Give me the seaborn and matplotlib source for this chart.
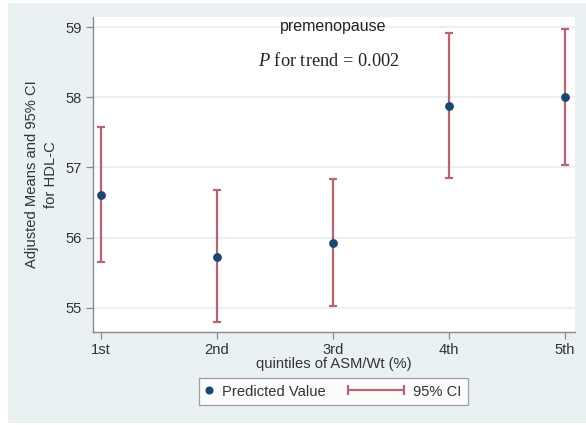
import matplotlib
matplotlib.use("Agg")
import matplotlib.pyplot as plt
import seaborn as sns
import pandas as pd
import numpy as np
from matplotlib.lines import Line2D
from matplotlib.legend_handler import HandlerBase
from matplotlib.patches import Rectangle

# Data
quintiles = ["1st", "2nd", "3rd", "4th", "5th"]
means = [56.61, 55.73, 55.93, 57.88, 58.00]
ci_low = [55.65, 54.80, 55.02, 56.85, 57.03]
ci_high = [57.57, 56.68, 56.84, 58.91, 58.97]
y_ticks = [55, 56, 57, 58, 59]

df = pd.DataFrame({"pos": np.arange(1, 6), "q": quintiles, "mean": means,
                   "lo": ci_low, "hi": ci_high})

sns.set_theme(style="white")
plt.rcParams["font.family"] = ["Liberation Sans", "DejaVu Sans"]
plt.rcParams["mathtext.fontset"] = "custom"
plt.rcParams["mathtext.it"] = "Liberation Serif:italic"
plt.rcParams["mathtext.rm"] = "Liberation Serif"

panel = "#e9f1f3"
navy = "#1a476f"
maroon = "#b8646e"
txt = "#333333"
FS = 10.6

fig = plt.figure(figsize=(5.86, 4.25), dpi=100, facecolor=panel)
for rect in [(0, 0, 8/586, 1), (0, 1-3/425, 1, 3/425), (0, 0, 1, 2/425)]:
    fig.patches.append(Rectangle(rect[:2], rect[2], rect[3], transform=fig.transFigure,
                                 facecolor="white", edgecolor="none", zorder=-1))

ax = fig.add_axes([92.7/586, 1-331.7/425, (575-92.7)/586, (331.7-17.3)/425])
ax.set_facecolor("white")

ax.errorbar(df["pos"], df["mean"],
            yerr=[df["mean"] - df["lo"], df["hi"] - df["mean"]],
            fmt="none", ecolor=maroon, elinewidth=1.6, capsize=2.9, capthick=1.6,
            zorder=2)
sns.scatterplot(data=df, x="pos", y="mean", ax=ax, color=navy, s=40,
                edgecolor=navy, linewidth=0, zorder=3, legend=False)

ax.set_xlim(0.931, 5.086)
ax.set_ylim(54.66, 59.14)
ax.set_xticks(df["pos"])
ax.set_xticklabels(quintiles)
ax.set_yticks(y_ticks)
ax.set_yticklabels([str(v) for v in y_ticks])

for y in y_ticks:
    ax.axhline(y, color=panel, lw=1.6, zorder=1)

for s in ["top", "right"]:
    ax.spines[s].set_visible(False)
for s in ["left", "bottom"]:
    ax.spines[s].set_color("#8a8a8a")
    ax.spines[s].set_linewidth(1.0)

ax.tick_params(axis="both", direction="out", length=5, width=0.9, color="#8a8a8a",
               labelsize=FS, labelcolor=txt, left=True, bottom=True, pad=3)

ax.set_xlabel("quintiles of ASM/Wt (%)", fontsize=FS, color=txt, labelpad=0)
ax.set_ylabel("Adjusted Means and 95% CI\nfor HDL-C", fontsize=FS, color=txt,
              labelpad=5, linespacing=1.5)

fig.text(333/586, 1-27/425, "premenopause", fontsize=11.5, color="#222222",
         ha="center", va="center")
fig.text(328.5/586, 1-61/425, r"$P$ for trend = 0.002", fontsize=13.2,
         color="#222222", ha="center", va="center",
         family=["Liberation Serif", "DejaVu Serif"])


class DotHandler(HandlerBase):
    def create_artists(self, legend, orig_handle, xdescent, ydescent, width,
                       height, fontsize, trans):
        l = Line2D([width/2 - xdescent - 1.5], [height/2 - ydescent], marker="o",
                   color=navy, markersize=4.8, linestyle="none", transform=trans)
        return [l]


class CIHandler(HandlerBase):
    def create_artists(self, legend, orig_handle, xdescent, ydescent, width,
                       height, fontsize, trans):
        px = 72.0 / 100.0  # pixels -> points
        x1 = width - xdescent - 3 * px
        x0 = x1 - 56 * px
        yc = height/2 - ydescent
        line = Line2D([x0, x1], [yc, yc], color=maroon, lw=1.6, transform=trans)
        caps = Line2D([x0, x1], [yc, yc], color=maroon, linestyle="none",
                      marker="|", markersize=7, markeredgewidth=1.6, transform=trans)
        return [line, caps]


h_pt = Line2D([], [])
h_ci = Line2D([], [])
leg = fig.legend([h_pt, h_ci], ["Predicted Value", "95% CI"], ncol=2,
                 loc="center", bbox_to_anchor=(333.5/586, 1-391.5/425),
                 handler_map={h_pt: DotHandler(), h_ci: CIHandler()},
                 fontsize=FS, frameon=True, fancybox=False, handlelength=0.75,
                 columnspacing=4.76, handletextpad=0.38, borderpad=0.45)
leg.get_frame().set_edgecolor("#8a8a8a")
leg.get_frame().set_linewidth(0.9)
leg.get_frame().set_facecolor("white")
for t in leg.get_texts():
    t.set_color(txt)

fig.savefig("out.png", dpi=100, facecolor=fig.get_facecolor())
